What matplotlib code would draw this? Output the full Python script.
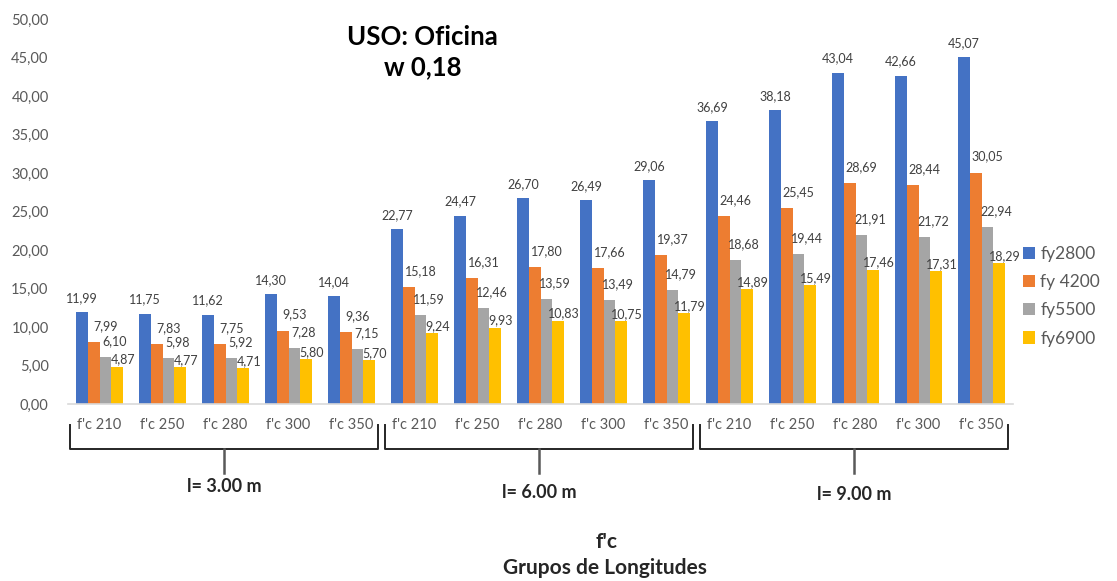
import numpy as np
import matplotlib.pyplot as plt
import matplotlib.transforms as mtransforms

plt.rcParams['font.family'] = ['Lato', 'DejaVu Sans']

# concrete strength groups, repeated for each span length
categories = ["f'c 210", "f'c 250", "f'c 280", "f'c 300", "f'c 350"] * 3
spans = ["l= 3.00 m", "l= 6.00 m", "l= 9.00 m"]

series = ["fy2800", "fy 4200", "fy5500", "fy6900"]
fy2800 = [11.99, 11.75, 11.62, 14.30, 14.04,
          22.77, 24.47, 26.70, 26.49, 29.06,
          36.69, 38.18, 43.04, 42.66, 45.07]
fy4200 = [7.99, 7.83, 7.75, 9.53, 9.36,
          15.18, 16.31, 17.80, 17.66, 19.37,
          24.46, 25.45, 28.69, 28.44, 30.05]
fy5500 = [6.10, 5.98, 5.92, 7.28, 7.15,
          11.59, 12.46, 13.59, 13.49, 14.79,
          18.68, 19.44, 21.91, 21.72, 22.94]
fy6900 = [4.87, 4.77, 4.71, 5.80, 5.70,
          9.24, 9.93, 10.83, 10.75, 11.79,
          14.89, 15.49, 17.46, 17.31, 18.29]

colors = ["#4472C4", "#ED7D31", "#A5A5A5", "#FFC000"]
# label nudges in pixels (dx, dy) per series
nudges = [(0, 14), (12, 16), (9, 16), (6, 7)]

fig = plt.figure(figsize=(11.17, 5.81), dpi=100)
ax = fig.add_axes([0.0609, 0.3046, 0.846, 0.6627])

x = np.arange(len(categories))
w = 0.183
for k, (vals, name, c) in enumerate(zip([fy2800, fy4200, fy5500, fy6900], series, colors)):
    pos = x + (k - 1.5) * w
    ax.bar(pos, vals, width=w, color=c, label=name, zorder=2)
    dx, dy = nudges[k]
    for px, v in zip(pos, vals):
        ax.annotate(f"{v:.2f}".replace(".", ","), (px, v), xytext=(dx, dy),
                    textcoords="offset pixels", ha="center", va="center",
                    fontsize=9, color="#404040")

ax.set_xlim(-0.5, len(categories) - 0.5)
ax.set_ylim(0, 50)
ax.set_yticks(np.arange(0, 51, 5))
ax.set_yticklabels([f"{t:.2f}".replace(".", ",") for t in np.arange(0, 51, 5)])
ax.set_xticks(x)
ax.set_xticklabels(categories)
ax.tick_params(axis="both", length=0, colors="#595959", labelsize=10.5)
ax.tick_params(axis="x", pad=10)
ax.tick_params(axis="y", pad=14)
for s in ["top", "right", "left"]:
    ax.spines[s].set_visible(False)
ax.spines["bottom"].set_color("#D9D9D9")
ax.spines["bottom"].set_linewidth(1.2)

ax.text(0.375, 0.915, "USO: Oficina\nw 0,18", transform=ax.transAxes, ha="center",
        va="center", fontsize=18.5, fontweight="bold", color="black", linespacing=1.3)

# span brackets under the category labels
trans = mtransforms.blended_transform_factory(ax.transData, fig.transFigure)
def fy(py):
    return (581 - py) / 581

label_y = [487, 492, 494]
for g, span in enumerate(spans):
    x0 = g * 5 - 0.47
    x1 = g * 5 + 4 + 0.42
    xm = (x0 + x1) / 2
    ax.plot([x0, x0, x1, x1], [fy(425), fy(449), fy(449), fy(425)], color="#262626",
            lw=1.4, transform=trans, clip_on=False)
    ax.plot([xm, xm], [fy(449), fy(473)], color="#595959", lw=1.8,
            transform=trans, clip_on=False)
    ax.text(xm, fy(label_y[g]), span, transform=trans, ha="center", va="center",
            fontsize=13, fontweight="bold", color="#262626")

fig.text(607 / 1117, fy(542), "f'c", ha="center", va="center", fontsize=15,
         fontweight="bold", color="#262626")
fig.text(605 / 1117, fy(568), "Grupos de Longitudes", ha="center", va="center",
         fontsize=15, fontweight="bold", color="#262626")

leg = fig.legend(loc="center left", bbox_to_anchor=(0.905, 0.49), frameon=False,
                 fontsize=12.5, handlelength=0.7, handleheight=0.7, handletextpad=0.3,
                 labelspacing=0.7, labelcolor="#595959", borderpad=0.2)

fig.savefig("out.png", dpi=100)
